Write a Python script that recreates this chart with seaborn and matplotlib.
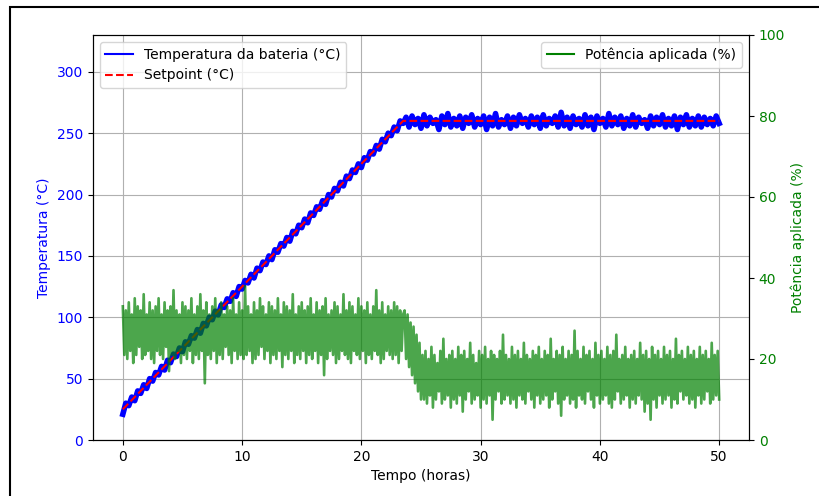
import numpy as np
import matplotlib
matplotlib.use("Agg")
import matplotlib.pyplot as plt
import seaborn as sns
from matplotlib.patches import Rectangle

# ---------------- data ----------------
sp_time = [0, 23.5, 50]
sp_temp = [25, 260, 260]

temp_values = [
    21, 30, 28, 35, 32, 40, 38, 45, 42, 50, 48, 55, 53, 60, 57, 65, 63, 70, 68, 75,
    72, 80, 78, 85, 83, 90, 87, 95, 93, 100, 98, 105, 102, 110, 108, 115, 113, 120, 117, 125,
    123, 130, 128, 135, 132, 140, 138, 145, 143, 150, 147, 155, 153, 160, 158, 165, 162, 170, 168, 175,
    173, 180, 177, 185, 183, 190, 188, 195, 192, 200, 198, 205, 203, 210, 207, 215, 213, 220, 218, 225,
    222, 230, 228, 235, 233, 240, 237, 245, 243, 250, 248, 255, 252, 260, 258,
    263, 255, 264, 257, 262, 254, 265, 256, 263, 258, 261, 253, 264, 257, 266, 255, 262, 256, 264, 254,
    263, 258, 265, 255, 262, 257, 264, 253, 263, 256, 266, 255, 261, 257, 264, 254, 263, 256, 265, 258,
    262, 255, 264, 257, 263, 254, 265, 256, 262, 258, 264, 255, 267, 256, 263, 254, 264, 257, 262, 255,
    265, 256, 263, 253, 264, 258, 262, 255, 266, 256, 263, 257, 264, 254, 262, 256, 265, 255, 263, 258,
    261, 254, 264, 256, 263, 257, 265, 255, 262, 256, 264, 253, 263, 257, 265, 255, 262, 256, 264, 255,
    263, 257, 262, 256, 264, 258,
]
temp_time = np.linspace(0, 50, len(temp_values))

power_values = [
    33, 21, 32, 20, 34, 22, 31, 19, 35, 21, 33, 23, 32, 20, 36, 21, 31, 22, 34, 20,
    32, 19, 33, 22, 35, 21, 31, 20, 34, 23, 32, 17, 33, 21, 37, 20, 32, 22, 31, 19,
    34, 21, 33, 20, 32, 22, 35, 19, 31, 21, 33, 20, 36, 22, 32, 14, 34, 21, 31, 20,
    33, 22, 35, 19, 32, 21, 34, 20, 31, 23, 33, 21, 32, 19, 35, 22, 31, 20, 34, 21,
    32, 20, 38, 21, 33, 22, 31, 19, 34, 20, 32, 21, 35, 23, 33, 20, 31, 22, 34, 19,
    33, 21, 32, 20, 35, 22, 31, 18, 34, 21, 33, 20, 32, 22, 36, 19, 31, 21, 33, 20,
    34, 22, 32, 19, 33, 21, 35, 20, 31, 22, 34, 19, 32, 21, 33, 16, 35, 20, 31, 22,
    32, 21, 34, 19, 33, 20, 31, 22, 36, 21, 32, 20, 34, 19, 33, 22, 31, 21, 35, 20,
    33, 22, 32, 19, 34, 21, 31, 20, 33, 22, 37, 21, 32, 19, 34, 20, 31, 22, 33, 21,
    32, 20, 34, 21, 33, 19, 32, 22, 31,
    32, 20, 31, 18, 29, 16, 28, 14, 26, 12, 24, 10,
    21, 10, 22, 9, 20, 11, 23, 8, 21, 10, 19, 12, 22, 9, 25, 10, 20, 11, 21, 8,
    22, 10, 20, 9, 23, 11, 21, 7, 22, 10, 20, 12, 24, 9, 21, 10, 19, 11, 22, 8,
    21, 10, 23, 9, 20, 11, 22, 5, 21, 10, 20, 12, 22, 9, 26, 10, 21, 11, 20, 9,
    23, 10, 21, 8, 22, 11, 20, 10, 24, 9, 21, 12, 20, 10, 22, 8, 21, 11, 23, 9,
    20, 10, 22, 11, 21, 8, 25, 10, 20, 12, 22, 9, 21, 6, 23, 10, 20, 11, 22, 9,
    21, 10, 27, 8, 22, 11, 20, 10, 23, 9, 21, 12, 22, 10, 20, 8, 24, 11, 21, 9,
    22, 10, 20, 11, 23, 9, 21, 8, 22, 10, 26, 12, 20, 9, 21, 10, 23, 11, 20, 8,
    21, 10, 22, 9, 20, 11, 24, 10, 21, 7, 22, 9, 20, 5, 23, 10, 21, 8, 22, 11,
    20, 9, 23, 10, 21, 11, 22, 8, 20, 10, 25, 9, 21, 12, 22, 10, 20, 11, 23, 9,
    21, 10, 22, 8, 20, 11, 23, 9, 21, 10, 22, 12, 20, 9, 24, 10, 21, 11, 22, 10,
]
power_time = np.linspace(0, 50, len(power_values))

x_ticks = [0, 10, 20, 30, 40, 50]
temp_ticks = [0, 50, 100, 150, 200, 250, 300]
power_ticks = [0, 20, 40, 60, 80, 100]

# ---------------- plot ----------------
plt.rcParams['font.family'] = ['DejaVu Sans']
fig = plt.figure(figsize=(8.2, 4.96), dpi=100)
ax1 = fig.add_axes([93/820, 56/496, 656/820, 405/496])

sns.lineplot(x=temp_time, y=temp_values, ax=ax1, color='b', linewidth=4.0,
             label='Temperatura da bateria (°C)', sort=False, estimator=None)
sns.lineplot(x=sp_time, y=sp_temp, ax=ax1, color='r', linewidth=1.5, linestyle='--',
             label='Setpoint (°C)', sort=False, estimator=None)
ax1.set_xlim(-2.5, 52.5)
ax1.set_ylim(0, 330)
ax1.set_xticks(x_ticks)
ax1.set_yticks(temp_ticks)
ax1.set_xlabel('Tempo (horas)')
ax1.set_ylabel('Temperatura (°C)', color='b')
ax1.tick_params(axis='y', labelcolor='b')
ax1.grid(True)
leg1 = ax1.legend(loc='upper left')
for lh in leg1.get_lines():
    lh.set_linewidth(1.5)

ax2 = ax1.twinx()
sns.lineplot(x=power_time, y=power_values, ax=ax2, color='g', linewidth=1.9, alpha=0.7,
             label='Potência aplicada (%)', sort=False, estimator=None)
ax2.set_ylim(0, 100)
ax2.set_yticks(power_ticks)
ax2.set_ylabel('Potência aplicada (%)', color='g')
ax2.tick_params(axis='y', labelcolor='g')
leg2 = ax2.legend(loc='upper right')
for lh in leg2.get_lines():
    lh.set_alpha(1.0)
    lh.set_linewidth(1.5)

fig.patches.append(Rectangle((10/820, -0.2), 1.2, (496-7)/496 + 0.2,
                             transform=fig.transFigure, fill=False,
                             edgecolor='black', linewidth=1.5, clip_on=False))

fig.savefig('out.png', dpi=100)
